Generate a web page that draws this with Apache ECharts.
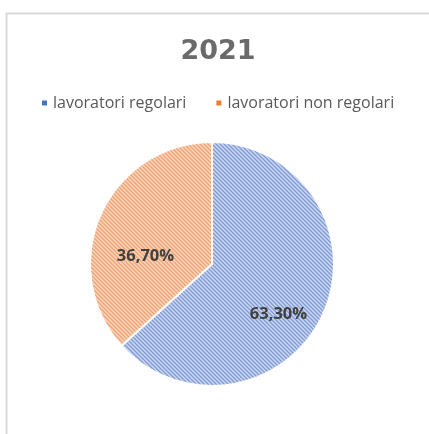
<!DOCTYPE html>
<html>
<head>
<meta charset="utf-8">
<script src="https://cdn.jsdelivr.net/npm/echarts@6/dist/echarts.min.js"></script>
<style>
  html, body { margin: 0; padding: 0; background: #ffffff; }
  #chart { width: 429px; height: 434px; }
</style>
</head>
<body>
<div id="chart"></div>
<script>
// Data
const titleText = '2021';
const categories = ['lavoratori regolari', 'lavoratori non regolari'];
const values = [63.3, 36.7];

// Hatched fill: fine diagonal stripes on a light base
function hatch(base, stripe) {
  const c = document.createElement('canvas');
  c.width = 4; c.height = 4;
  const ctx = c.getContext('2d');
  ctx.fillStyle = base;
  ctx.fillRect(0, 0, 4, 4);
  ctx.strokeStyle = stripe;
  ctx.lineWidth = 1.3;
  ctx.beginPath();
  ctx.moveTo(-1, -1); ctx.lineTo(5, 5);
  ctx.moveTo(-1, 3); ctx.lineTo(1, 5);
  ctx.moveTo(3, -1); ctx.lineTo(5, 1);
  ctx.stroke();
  return { image: c, repeat: 'repeat' };
}

const fills = [hatch('#ccd8f1', '#7f9ad5'), hatch('#fbd6bc', '#eea274')];
const solid = ['#4472c4', '#ed7d31'];
// label nudges away from the slice mid-point
const labelShift = [[8, 24], [-8, 18]];

const chart = echarts.init(document.getElementById('chart'));
chart.setOption({
  animation: false,
  graphic: [{
    type: 'polyline',
    shape: { points: [[6.5, 440], [6.5, 13.5], [440, 13.5]] },
    style: { stroke: '#d9d9d9', lineWidth: 2, fill: null },
    silent: true
  }],
  title: {
    text: titleText,
    left: 213, top: 33, textAlign: 'center',
    textStyle: { fontFamily: 'DejaVu Sans', fontWeight: 'bold', fontSize: 27, color: '#6a6a6a' }
  },
  legend: {
    top: 90, left: 35, itemGap: 28,
    itemWidth: 7, itemHeight: 7, icon: 'rect',
    textStyle: { fontFamily: 'Open Sans', fontSize: 16, color: '#595959' },
    data: categories.map((n, i) => ({ name: n, itemStyle: { color: solid[i] } }))
  },
  series: [{
    type: 'pie',
    center: [212, 264],
    radius: 122,
    startAngle: 90,
    clockwise: true,
    data: categories.map((n, i) => ({
      name: n, value: values[i],
      itemStyle: { color: fills[i] }
    })),
    itemStyle: { borderColor: '#ffffff', borderWidth: 2 },
    label: {
      position: 'inside',
      formatter: p => p.value.toFixed(2).replace('.', ',') + '%',
      fontFamily: 'Open Sans', fontWeight: 'bold', fontSize: 16.5, color: '#404040'
    },
    labelLayout: p => ({ dx: labelShift[p.dataIndex][0], dy: labelShift[p.dataIndex][1] }),
    labelLine: { show: false },
    emphasis: { disabled: true }
  }]
});
</script>
</body>
</html>
